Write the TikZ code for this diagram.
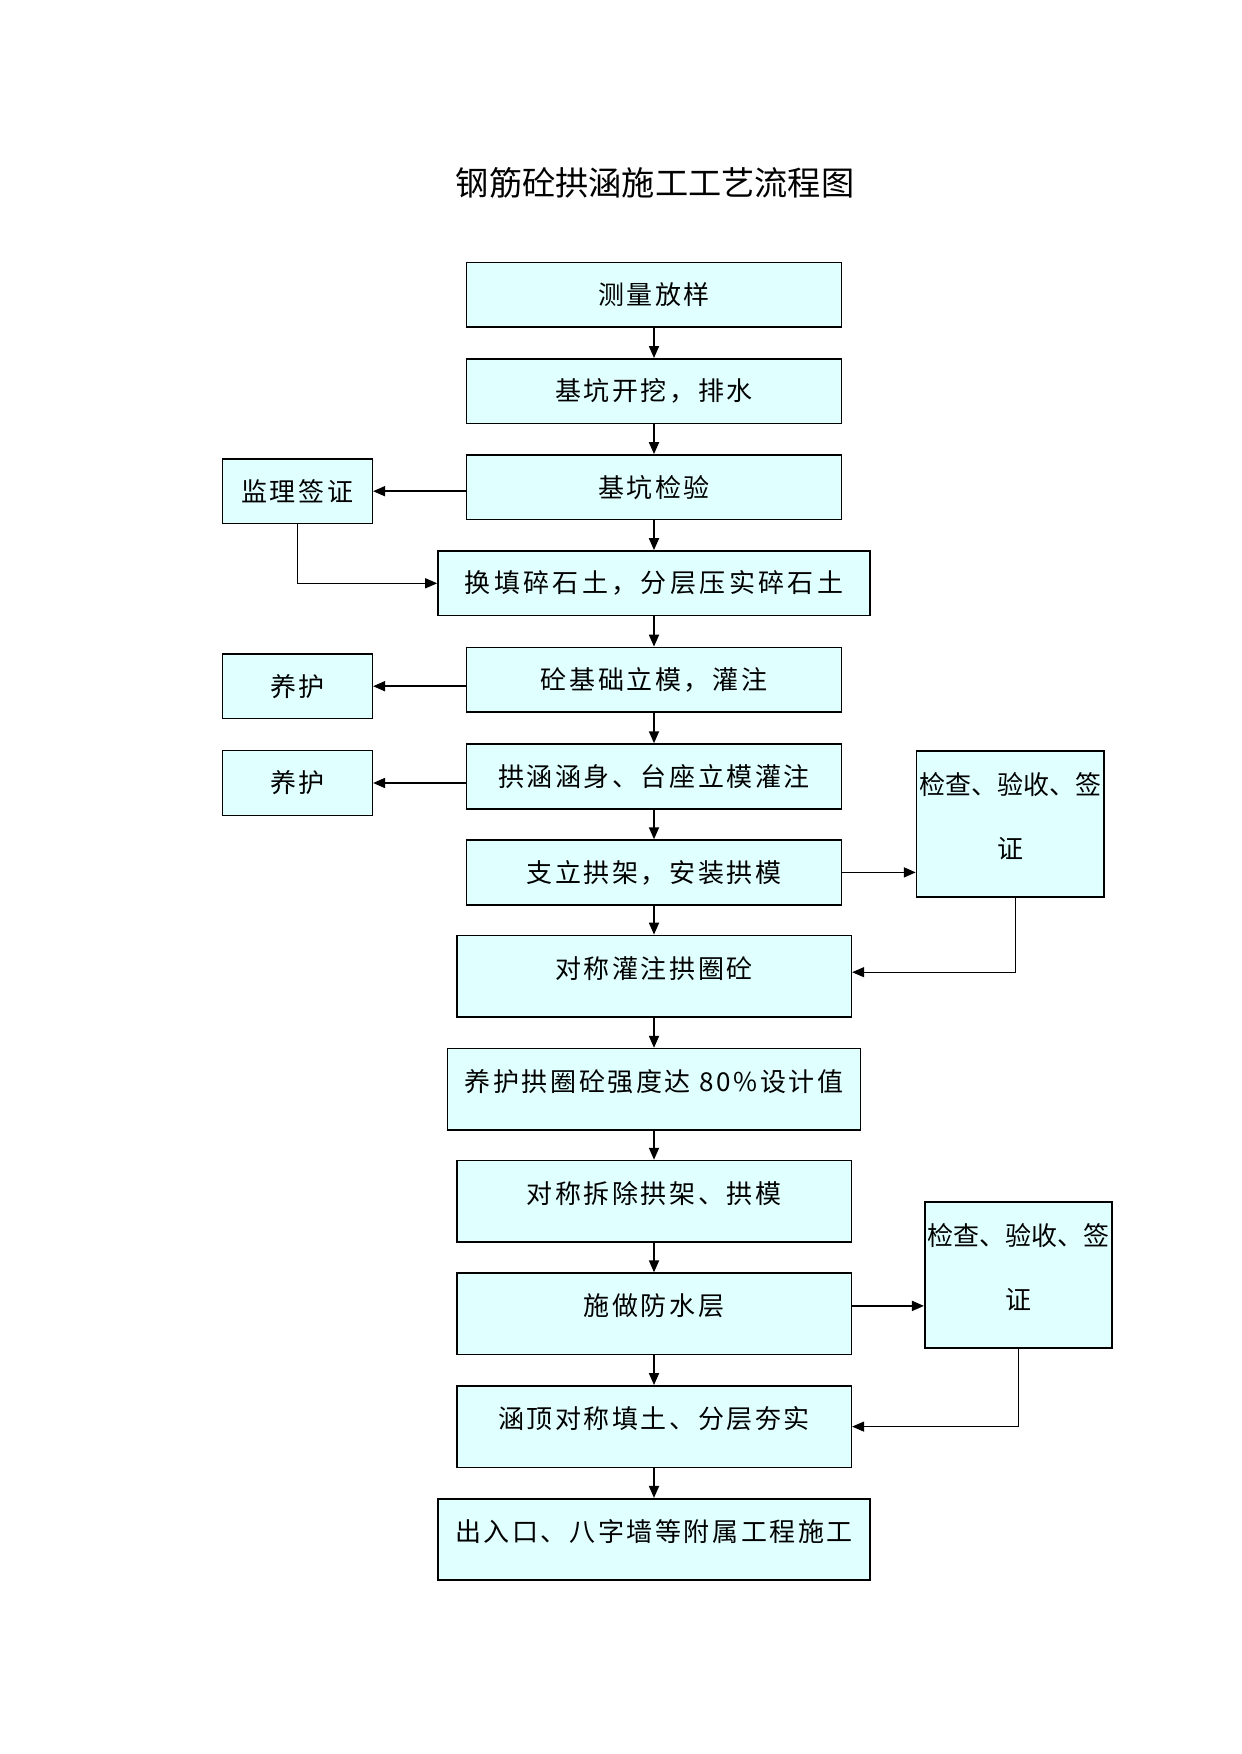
\documentclass[tikz,border=0pt]{standalone}
\usepackage{fontspec}
\usetikzlibrary{arrows.meta}
\newfontfamily\titlefont{Noto Sans CJK SC}
\newfontfamily\boxfont[LetterSpace=10]{Noto Sans CJK SC}
\newfontfamily\widefont[LetterSpace=13]{Noto Sans CJK SC}
\definecolor{boxfill}{HTML}{E0FFFF}
\tikzset{
  box/.style={draw,line width=0.8pt,fill=boxfill,inner sep=0pt,minimum width=187.5pt,minimum height=32.35pt,font=\boxfont\fontsize{13pt}{16pt}\selectfont},
  tallbox/.style={box,minimum width=197.3pt,minimum height=40.75pt,text depth=9pt},
  sidebox/.style={box,minimum width=75pt},
  checkbox/.style={box,font=\titlefont\fontsize{13pt}{16pt}\selectfont,minimum width=93.75pt,minimum height=73.2pt,align=center,text depth=8.5pt},
  arr/.style={-{Triangle[length=6pt,width=5pt]},line width=0.9pt},
  thinarr/.style={arr,line width=0.6pt}
}
\begin{document}
\begin{tikzpicture}[x=0.5pt,y=0.5pt,yscale=-1]
    \useasboundingbox (0,0) rectangle (1241,1754);
    \node[font=\titlefont\fontsize{16.6pt}{19pt}\selectfont] (title) at (655,183) {钢筋砼拱涵施工工艺流程图};
    % main column
    \node[box] (b1) at (654,294.7) {测量放样};
    \node[box] (b2) at (654,391.2) {基坑开挖，排水};
    \node[box] (b3) at (654,487.3) {基坑检验};
    \node[box,minimum width=216pt,font=\widefont\fontsize{13pt}{16pt}\selectfont] (b4) at (654,583.3) {换填碎石土，分层压实碎石土};
    \node[box] (b5) at (654,679.8) {砼基础立模，灌注};
    \node[box] (b6) at (654,776.4) {拱涵涵身、台座立模灌注};
    \node[box] (b7) at (654,872.4) {支立拱架，安装拱模};
    \node[tallbox] (b8) at (654,976.2) {对称灌注拱圈砼};
    \node[tallbox,minimum width=206.35pt] (b9) at (654,1089.4) {养护拱圈砼强度达 80\%设计值};
    \node[tallbox] (b10) at (654,1201.3) {对称拆除拱架、拱模};
    \node[tallbox] (b11) at (654,1313.9) {施做防水层};
    \node[tallbox] (b12) at (654,1426.6) {涵顶对称填土、分层夯实};
    \node[tallbox,minimum width=216pt] (b13) at (654,1539.5) {出入口、八字墙等附属工程施工};
    % side boxes
    \node[sidebox] (jlqz) at (297.3,491.2) {监理签证};
    \node[sidebox] (yh1) at (297.3,686.2) {养护};
    \node[sidebox] (yh2) at (297.3,783) {养护};
    \node[checkbox] (jc1) at (1010.3,823.9) {检查、验收、签\\[16pt]证};
    \node[checkbox] (jc2) at (1018.5,1274.9) {检查、验收、签\\[16pt]证};
    \draw[arr] (b1) -- (b2);
    \draw[arr] (b2) -- (b3);
    \draw[arr] (b3) -- (b4);
    \draw[arr] (b4) -- (b5);
    \draw[arr] (b5) -- (b6);
    \draw[arr] (b6) -- (b7);
    \draw[arr] (b7) -- (b8);
    \draw[arr] (b8) -- (b9);
    \draw[arr] (b9) -- (b10);
    \draw[arr] (b10) -- (b11);
    \draw[arr] (b11) -- (b12);
    \draw[arr] (b12) -- (b13);
    \draw[arr] (b3.west |- jlqz) -- (jlqz.east);
    \draw[thinarr] (jlqz.south) |- (b4.west);
    \draw[arr] (b5.west |- yh1) -- (yh1.east);
    \draw[arr] (b6.west |- yh2) -- (yh2.east);
    \draw[arr] (b7.east) -- (b7.east -| jc1.west);
    \draw[thinarr] ([xshift=2.5pt]jc1.south) |- ([yshift=-2pt]b8.east);
    \draw[arr] ([yshift=-4pt]b11.east) -- ([yshift=-4pt]b11.east -| jc2.west);
    \draw[thinarr] (jc2.south) |- (b12.east);
  \end{tikzpicture}
\end{document}
